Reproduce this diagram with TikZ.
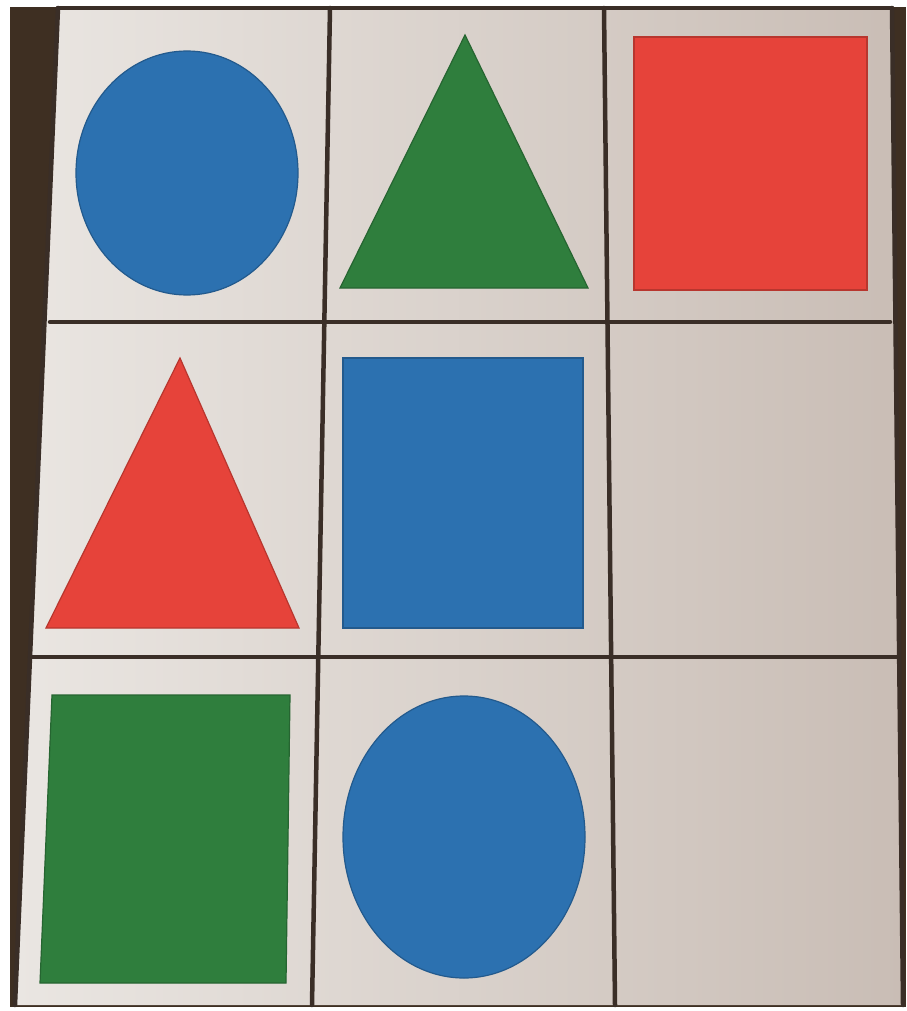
\documentclass[tikz,border=0pt]{standalone}
\begin{document}
\begin{tikzpicture}[x=1pt,y=-1pt,
  gridline/.style={draw=lineDark,line width=4.5pt,line cap=round},
  piece/.style={line width=1.2pt},
  bluepiece/.style={piece,fill=pieceBlue,draw=pieceBlue!80!black},
  greenpiece/.style={piece,fill=pieceGreen,draw=pieceGreen!80!black},
  redpiece/.style={piece,fill=pieceRed,draw=pieceRed!80!black}]
\definecolor{lineDark}{HTML}{3A2E27}
\definecolor{bgDark}{HTML}{3E2F22}
\definecolor{cardL}{HTML}{EAE6E2}
\definecolor{cardR}{HTML}{C9BDB5}
\definecolor{pieceBlue}{HTML}{2C71B0}
\definecolor{pieceGreen}{HTML}{2F7E3D}
\definecolor{pieceRed}{HTML}{E6433A}
\useasboundingbox (0,0) rectangle (906,1011);
\fill[white] (0,0) rectangle (906,1011);
% dark table background
\fill[bgDark] (10,7) rectangle (906,1007);
% board
\shade[left color=cardL,right color=cardR]
  (58,8) -- (892,8) -- (903,1005) -- (15,1005) -- cycle;
% grid lines
\draw[gridline] (58,8) -- (892,8);
\draw[gridline] (50,322) -- (890,322);
\draw[gridline] (30,657) -- (897,657);
\draw[gridline] (330,8) -- (312,1005);
\draw[gridline] (604,8) -- (615,1005);
\draw[gridline] (58,8) -- (15,1005);
\draw[gridline] (892,8) -- (903,1005);
% row 1
\draw[bluepiece] (187,173) ellipse [x radius=111,y radius=122];
\draw[greenpiece] (465,35) -- (588,288) -- (340,288) -- cycle;
\draw[redpiece] (634,37) rectangle (867,290);
% row 2
\draw[redpiece] (180,358) -- (299,628) -- (46,628) -- cycle;
\draw[bluepiece] (343,358) rectangle (583,628);
% row 3
\draw[greenpiece] (52,695) -- (290,695) -- (286,983) -- (40,983) -- cycle;
\draw[bluepiece] (464,837) ellipse [x radius=121,y radius=141];
\end{tikzpicture}
\end{document}
